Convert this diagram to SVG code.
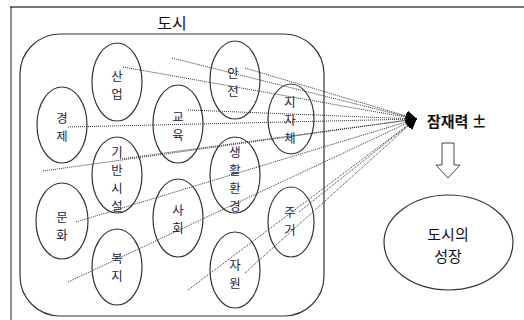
<svg xmlns="http://www.w3.org/2000/svg" width="524" height="320" viewBox="0 0 524 320">
<defs>
<style>
.e{fill:none;stroke:#333;stroke-width:1.2}
.t{font-family:"Noto Sans CJK KR","Noto Sans",sans-serif;font-size:12.4px;fill:#1e1e3c;text-anchor:middle}
.b{font-family:"Noto Sans CJK KR","Noto Sans",sans-serif;font-size:16px;fill:#111;text-anchor:middle}
.g{font-family:"Noto Sans CJK KR","Noto Sans",sans-serif;font-size:15px;fill:#111;text-anchor:middle}
.c line{stroke:#333;stroke-width:1;stroke-dasharray:1 1;marker-end:url(#ah)}
</style>
<marker id="ah" viewBox="0 0 10 10" refX="9" refY="5" markerWidth="11" markerHeight="11" markerUnits="userSpaceOnUse" orient="auto">
<path d="M0,0 L10,5 L0,10 Z" fill="#000"/>
</marker>
</defs>
<rect width="524" height="320" fill="#fff"/>
<line x1="10" y1="7" x2="524" y2="7" stroke="#777" stroke-width="2"/>
<line x1="11" y1="7" x2="11" y2="320" stroke="#222" stroke-width="1"/>
<g id="city">
<rect x="20" y="34" width="304" height="282" rx="40" ry="40" class="e"/>
<text x="172" y="29" class="b">도시</text>
</g>
<g id="n-industry"><ellipse cx="117" cy="82" rx="25" ry="39" class="e"/><text class="t" x="117" y="81">산</text><text class="t" x="117" y="99">업</text></g>
<g id="n-economy"><ellipse cx="62" cy="125" rx="25" ry="38" class="e"/><text class="t" x="62" y="123">경</text><text class="t" x="62" y="141">제</text></g>
<g id="n-education"><ellipse cx="178" cy="124" rx="25" ry="39" class="e"/><text class="t" x="178" y="122">교</text><text class="t" x="178" y="140">육</text></g>
<g id="n-safety"><ellipse cx="235" cy="80" rx="25" ry="39" class="e"/><text class="t" x="233" y="78">안</text><text class="t" x="233" y="96">전</text></g>
<g id="n-localgov"><ellipse cx="291" cy="119" rx="23" ry="35" class="e"/><text class="t" x="290" y="107">지</text><text class="t" x="290" y="125">자</text><text class="t" x="290" y="143">체</text></g>
<g id="n-infra"><ellipse cx="117" cy="175" rx="25" ry="38" class="e"/><text class="t" x="117" y="157">기</text><text class="t" x="117" y="175">반</text><text class="t" x="117" y="193">시</text><text class="t" x="117" y="211">설</text></g>
<g id="n-living"><ellipse cx="235" cy="175" rx="25" ry="38" class="e"/><text class="t" x="235" y="157">생</text><text class="t" x="235" y="175">활</text><text class="t" x="235" y="193">환</text><text class="t" x="235" y="211">경</text></g>
<g id="n-culture"><ellipse cx="62" cy="221" rx="26" ry="38" class="e"/><text class="t" x="62" y="222">문</text><text class="t" x="62" y="240">화</text></g>
<g id="n-society"><ellipse cx="178" cy="218" rx="25" ry="39" class="e"/><text class="t" x="178" y="215">사</text><text class="t" x="178" y="233">회</text></g>
<g id="n-welfare"><ellipse cx="117" cy="267" rx="25" ry="38" class="e"/><text class="t" x="117" y="263">복</text><text class="t" x="117" y="281">지</text></g>
<g id="n-resource"><ellipse cx="235" cy="270" rx="25" ry="38" class="e"/><text class="t" x="235" y="270">자</text><text class="t" x="235" y="288">원</text></g>
<g id="n-housing"><ellipse cx="291" cy="222" rx="23" ry="35" class="e"/><text class="t" x="290" y="217">주</text><text class="t" x="290" y="235">거</text></g>
<g id="connectors" class="c">
<line x1="172" y1="58" x2="416" y2="119"/>
<line x1="123" y1="67" x2="416" y2="119"/>
<line x1="245" y1="68" x2="416" y2="119"/>
<line x1="188" y1="110" x2="416" y2="119"/>
<line x1="68" y1="127" x2="416" y2="119"/>
<line x1="120" y1="159" x2="416" y2="119"/>
<line x1="43" y1="171" x2="416" y2="119"/>
<line x1="76" y1="222" x2="416" y2="119"/>
<line x1="68" y1="282" x2="416" y2="119"/>
<line x1="188" y1="290" x2="416" y2="119"/>
<line x1="245" y1="273" x2="416" y2="119"/>
<line x1="299" y1="212" x2="416" y2="119"/>
</g>
<g id="potential"><text x="427" y="127" class="g" style="text-anchor:start;font-weight:bold">잠재력 ±</text></g>
<g id="down-arrow"><path d="M442,143 L454,143 L454,165 L460,165 L448,178 L436,165 L442,165 Z" fill="#fff" stroke="#444" stroke-width="1"/></g>
<g id="growth"><ellipse cx="448.5" cy="242.5" rx="64.5" ry="47.5" class="e"/><text x="448" y="240" class="g">도시의</text><text x="448" y="262" class="g">성장</text></g>
</svg>
